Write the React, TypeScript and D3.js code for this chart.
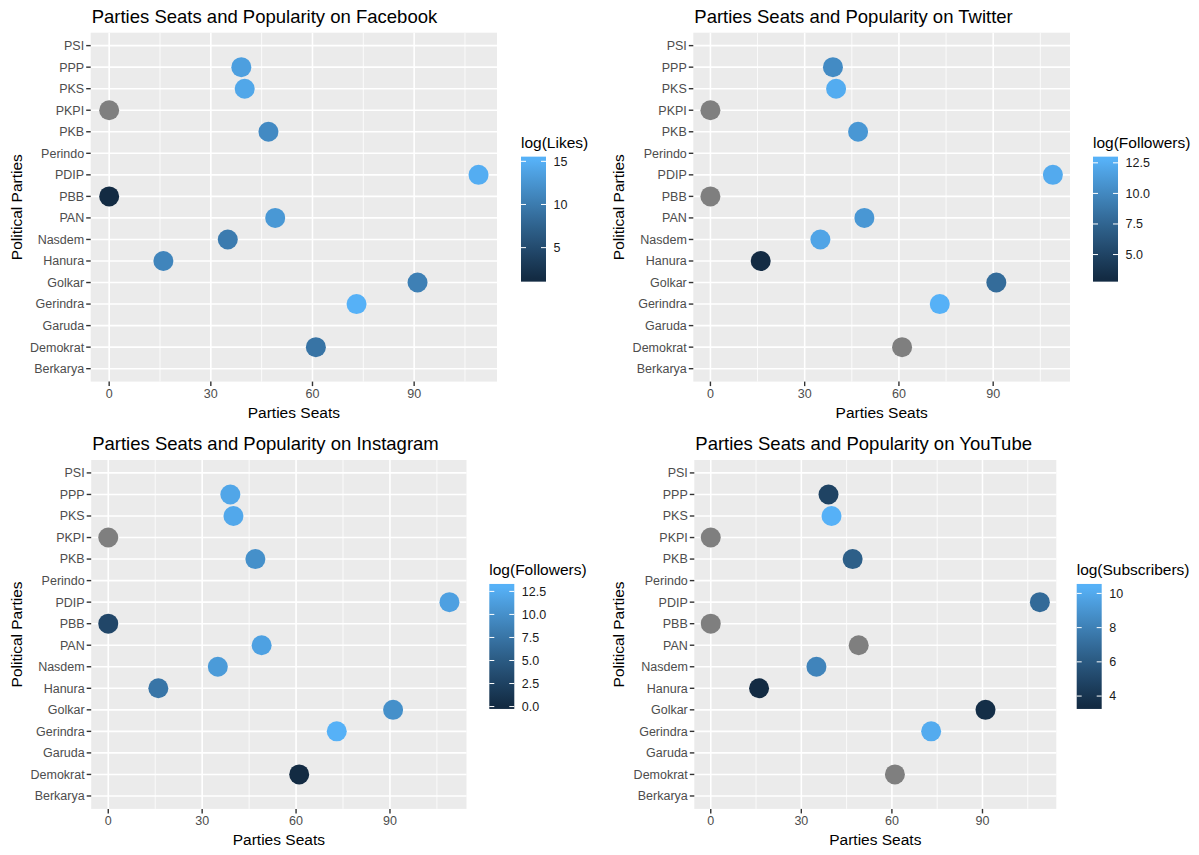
import React from 'react';
import * as d3 from 'd3';

// parties, top to bottom as on the y axis
const parties = ['PSI', 'PPP', 'PKS', 'PKPI', 'PKB', 'Perindo', 'PDIP', 'PBB', 'PAN', 'Nasdem', 'Hanura', 'Golkar', 'Gerindra', 'Garuda', 'Demokrat', 'Berkarya'];
const seats = [null, 39, 40, 0, 47, null, 109, 0, 49, 35, 16, 91, 73, null, 61, null];

// log of popularity per platform (null = no value, drawn grey)
const fbLikes = [null, 13.5, 14.2, null, 11.5, null, 14.8, 1.42, 12.8, 10.0, 11.0, 10.5, 15.18, null, 9.3, null];
const twFollowers = [null, 10.2, 12.4, null, 11.0, null, 12.3, null, 11.0, 11.9, 3.04, 8.0, 12.75, null, null, null];
const igFollowers = [null, 12.0, 12.2, null, 10.0, null, 11.5, 3.0, 11.6, 11.0, 7.6, 10.0, 12.97, null, 0.08, null];
const ytSubscribers = [null, 4.8, 10.37, null, 6.3, null, 6.9, null, null, 8.2, 3.43, 3.6, 10.1, null, null, null];

const fbTicks = [5, 10, 15];
const fbTickLabels = ['5', '10', '15'];
const twTicks = [5, 7.5, 10, 12.5];
const twTickLabels = ['5.0', '7.5', '10.0', '12.5'];
const igTicks = [0, 2.5, 5, 7.5, 10, 12.5];
const igTickLabels = ['0.0', '2.5', '5.0', '7.5', '10.0', '12.5'];
const ytTicks = [4, 6, 8, 10];
const ytTickLabels = ['4', '6', '8', '10'];

const xTicks = [0, 30, 60, 90];
const xMinor = [15, 45, 75, 105];

const W = 1199;
const H = 855;
const FONT = '"Liberation Sans", Arial, Helvetica, sans-serif';
const lowColor = '#132B43';
const highColor = '#56B1F7';
const naColor = '#7F7F7F';

const panels = [
  { title: 'Parties Seats and Popularity on Facebook', legendTitle: 'log(Likes)', values: fbLikes, ticks: fbTicks, labels: fbTickLabels, ox: 0, oy: 0, left: 90.7, right: 497, legX: 521, yTitleX: 22 },
  { title: 'Parties Seats and Popularity on Twitter', legendTitle: 'log(Followers)', values: twFollowers, ticks: twTicks, labels: twTickLabels, ox: 0, oy: 0, left: 693.3, right: 1070, legX: 1093, yTitleX: 624 },
  { title: 'Parties Seats and Popularity on Instagram', legendTitle: 'log(Followers)', values: igFollowers, ticks: igTicks, labels: igTickLabels, ox: 0, oy: 427.3, left: 91.2, right: 466.5, legX: 489.3, yTitleX: 22 },
  { title: 'Parties Seats and Popularity on YouTube', legendTitle: 'log(Subscribers)', values: ytSubscribers, ticks: ytTicks, labels: ytTickLabels, ox: 0, oy: 427.3, left: 694.3, right: 1056.3, legX: 1076.7, yTitleX: 624 },
];

function Panel({ p, idx }: { p: any; idx: number }) {
  const top = 32.7 + p.oy;
  const bottom = 381.6 + p.oy;

  const [s0, s1] = d3.extent(seats.filter((s) => s !== null) as number[]) as [number, number];
  const pad = (s1 - s0) * 0.05;
  const x = d3.scaleLinear().domain([s0 - pad, s1 + pad]).range([p.left, p.right]);
  const y = d3.scalePoint<string>().domain(parties).range([top, bottom]).padding(0.6);

  const vals = p.values.filter((v: number | null) => v !== null) as number[];
  const [lo, hi] = d3.extent(vals) as [number, number];
  const color = d3.scaleLinear<string>().domain([lo, hi]).range([lowColor, highColor]).interpolate(d3.interpolateLab);

  // colour bar
  const barH = 125;
  const barMid = (top + bottom) / 2 + 12;
  const barTop = barMid - barH / 2;
  const barBottom = barMid + barH / 2;
  const half = (hi - lo) / 38;
  const bar = d3.scaleLinear().domain([lo - half, hi + half]).range([barBottom, barTop]);
  const barW = 25;
  const gradId = `grad${idx}`;
  const stops = d3.range(0, 11).map((i) => i / 10);

  const pts = parties
    .map((name, i) => ({ name, seat: seats[i], v: p.values[i] }))
    .filter((d) => d.seat !== null);

  return (
    <g>
      <defs>
        <linearGradient id={gradId} x1="0" y1="1" x2="0" y2="0">
          {stops.map((t) => (
            <stop key={t} offset={(0.025 + t * 0.95) * 100 + '%'} stopColor={color(lo + t * (hi - lo))} />
          ))}
        </linearGradient>
      </defs>
      <text x={p.left + 1} y={22.7 + p.oy} fontSize={18.5} fontFamily={FONT} fill="#000">{p.title}</text>
      <rect x={p.left} y={top} width={p.right - p.left} height={bottom - top} fill="#EBEBEB" />
      {xMinor.map((t) => (
        <line key={'m' + t} x1={x(t)} x2={x(t)} y1={top} y2={bottom} stroke="#fff" strokeWidth={0.8} />
      ))}
      {xTicks.map((t) => (
        <line key={'g' + t} x1={x(t)} x2={x(t)} y1={top} y2={bottom} stroke="#fff" strokeWidth={1.6} />
      ))}
      {parties.map((d) => (
        <line key={'gy' + d} x1={p.left} x2={p.right} y1={y(d)} y2={y(d)} stroke="#fff" strokeWidth={1.6} />
      ))}
      {pts.map((d) => (
        <circle key={d.name} cx={x(d.seat as number)} cy={y(d.name)} r={10} fill={d.v === null ? naColor : color(d.v)} />
      ))}
      {parties.map((d) => (
        <g key={'ty' + d}>
          <line x1={p.left - 4.5} x2={p.left} y1={y(d)} y2={y(d)} stroke="#333" strokeWidth={1.4} />
          <text x={p.left - 6.5} y={(y(d) as number) + 4.4} textAnchor="end" fontSize={12.5} fontFamily={FONT} fill="#4D4D4D">{d}</text>
        </g>
      ))}
      {xTicks.map((t) => (
        <g key={'tx' + t}>
          <line x1={x(t)} x2={x(t)} y1={bottom} y2={bottom + 4.5} stroke="#333" strokeWidth={1.4} />
          <text x={x(t)} y={bottom + 16.5} textAnchor="middle" fontSize={12.5} fontFamily={FONT} fill="#4D4D4D">{t}</text>
        </g>
      ))}
      <text x={(p.left + p.right) / 2} y={bottom + 36} textAnchor="middle" fontSize={15.5} fontFamily={FONT} fill="#000">Parties Seats</text>
      <text transform={`translate(${p.yTitleX},${(top + bottom) / 2}) rotate(-90)`} textAnchor="middle" fontSize={15.5} fontFamily={FONT} fill="#000">Political Parties</text>

      <text x={p.legX} y={barTop - 9} fontSize={15.5} fontFamily={FONT} fill="#000">{p.legendTitle}</text>
      <rect x={p.legX} y={barTop} width={barW} height={barH} fill={`url(#${gradId})`} />
      {p.ticks.map((t: number, i: number) => (
        <g key={'lt' + t}>
          <line x1={p.legX} x2={p.legX + 5} y1={bar(t)} y2={bar(t)} stroke="#fff" strokeWidth={1} />
          <line x1={p.legX + barW - 5} x2={p.legX + barW} y1={bar(t)} y2={bar(t)} stroke="#fff" strokeWidth={1} />
          <text x={p.legX + barW + 7.5} y={bar(t) + 4.4} fontSize={12.5} fontFamily={FONT} fill="#1A1A1A">{p.labels[i]}</text>
        </g>
      ))}
    </g>
  );
}

export default function App() {
  return (
    <div style={{ position: 'absolute', left: 0, top: 0 }}>
      <svg width={W} height={H} style={{ display: 'block', background: '#fff' }}>
        {panels.map((p, i) => (
          <Panel key={i} p={p} idx={i} />
        ))}
      </svg>
    </div>
  );
}
